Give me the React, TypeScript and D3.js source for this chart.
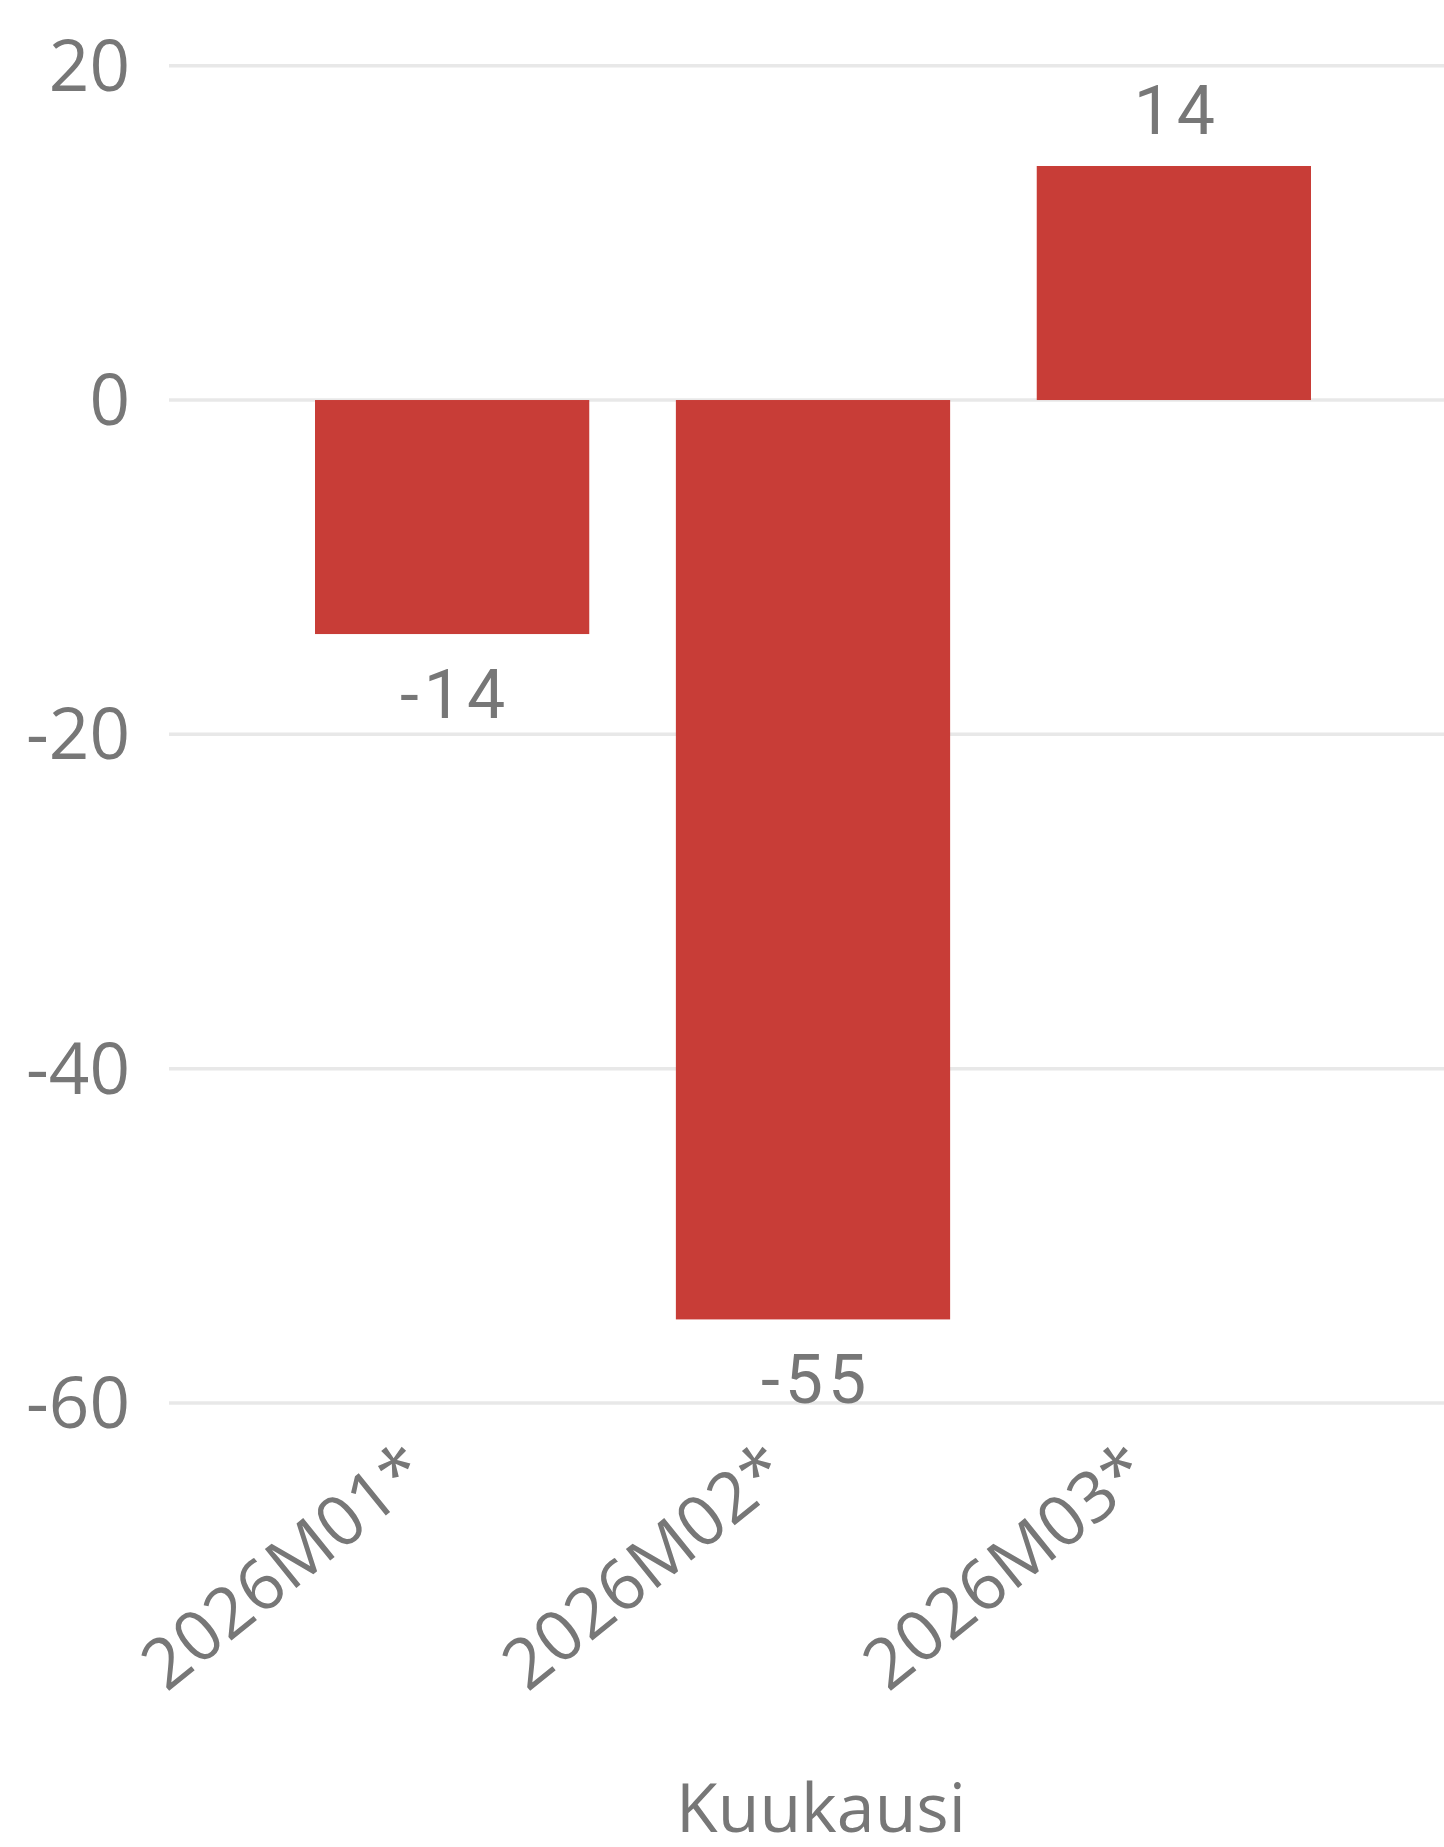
import React from "react";
import * as d3 from "d3";

const categories = ["2026M01*", "2026M02*", "2026M03*"];
const values = [-14, -55, 14];
const yTicks = [20, 0, -20, -40, -60];
const axisTitle = "Kuukausi";

const W = 1444;
const H = 1847;
const BAR = "#C83D37";
const TEXT = "#777777";
const GRID = "#E8E8E8";
const FONT = "'Open Sans', 'Noto Sans', sans-serif";
const LABEL_FONT = "Roboto, 'Noto Sans', sans-serif";

export default function App() {
  const y = d3.scaleLinear().domain([-60, 20]).range([1403, 65.7]);
  const x = d3
    .scaleBand<string>()
    .domain(categories)
    .range([315, 1311])
    .paddingInner(0.24)
    .paddingOuter(0);
  const bw = x.bandwidth();

  return (
    <svg
      width={W}
      height={H}
      style={{ position: "absolute", left: 0, top: 0, background: "#fff" }}
    >
      {yTicks.map((t) => (
        <g key={t}>
          <line x1={169} x2={W} y1={y(t)} y2={y(t)} stroke={GRID} strokeWidth={3.5} />
          <text
            x={130}
            y={y(t) + 25}
            textAnchor="end"
            fontFamily={FONT}
            fontSize={71}
            fill={TEXT}
          >
            {String(t)}
          </text>
        </g>
      ))}
      {categories.map((c, i) => {
        const v = values[i];
        const x0 = x(c) as number;
        const top = y(Math.max(0, v));
        const bottom = y(Math.min(0, v));
        const cx = x0 + bw / 2;
        const ly = v >= 0 ? top - 32 : bottom + 35 + 49;
        return (
          <g key={c}>
            <rect x={x0} y={top} width={bw} height={bottom - top} fill={BAR} />
            <text
              x={cx + 3}
              y={ly}
              textAnchor="middle"
              fontFamily={LABEL_FONT}
              fontSize={68}
              letterSpacing={5}
              fill={TEXT}
            >
              {String(v)}
            </text>
            <text
              transform={`translate(${cx - 20},${1478}) rotate(-39)`}
              textAnchor="end"
              fontFamily={FONT}
              fontSize={70}
              fill={TEXT}
            >
              {c}
            </text>
          </g>
        );
      })}
      <text
        x={821}
        y={1832}
        textAnchor="middle"
        fontFamily={FONT}
        fontSize={68}
        fill={TEXT}
      >
        {axisTitle}
      </text>
    </svg>
  );
}
